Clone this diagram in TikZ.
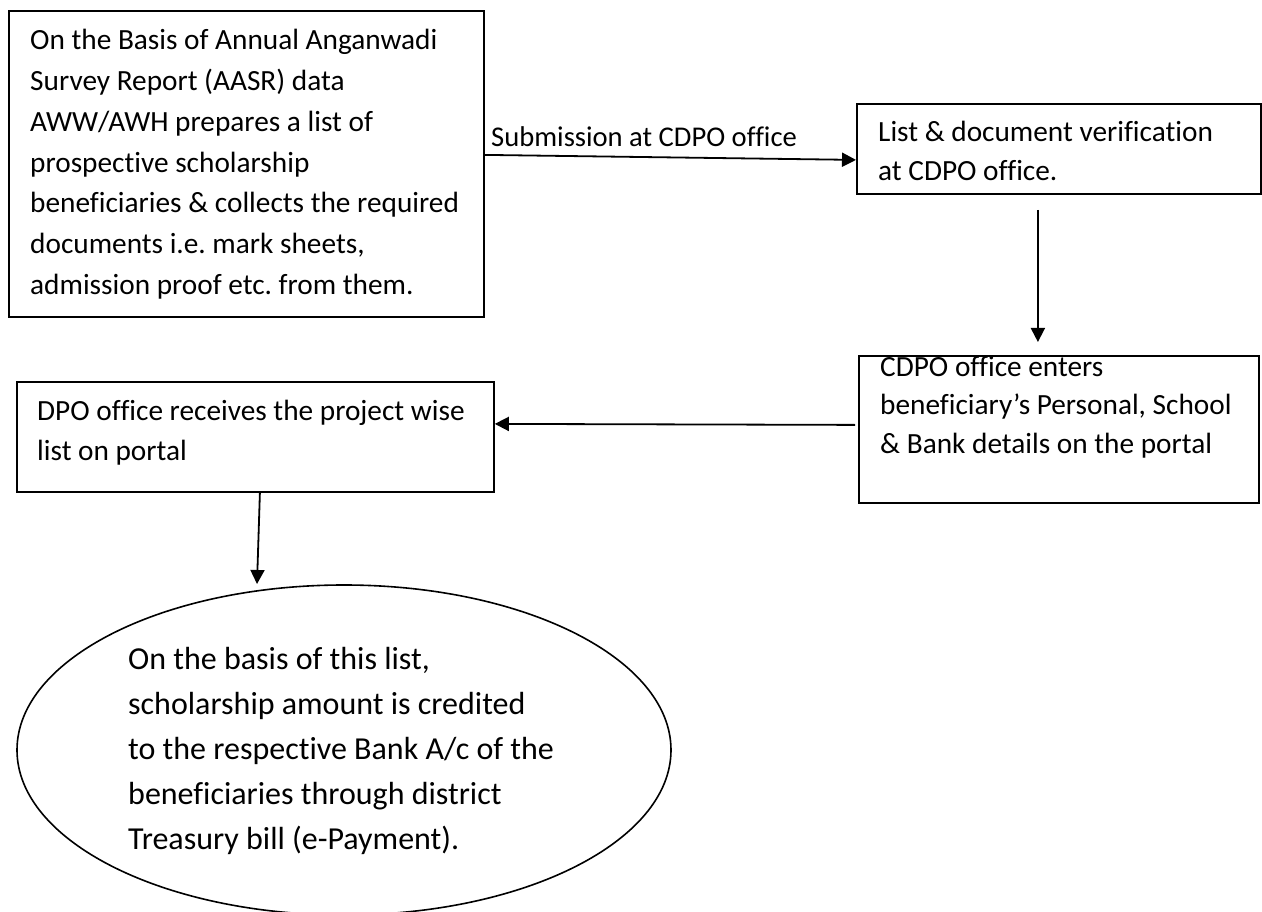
\documentclass[tikz,border=0pt]{standalone}
\usepackage{fontspec}
\setmainfont[Ligatures={NoCommon}]{Carlito}
\usetikzlibrary{arrows.meta,shapes.geometric}
\frenchspacing
\begin{document}
\begin{tikzpicture}[x=1pt,y=-1pt,
  box/.style={draw=black, line width=1.8pt, rectangle, inner sep=0pt, anchor=north west},
  txt/.style={anchor=base west, align=left, inner sep=0pt},
  conn/.style={line width=1.8pt, -{Triangle[length=14pt,width=14pt]}},
]
\useasboundingbox (0,0) rectangle (1262,912);
\clip (0,0) rectangle (1262,912);
\fill[white] (0,0) rectangle (1262,912);

% boxes
\node[box, minimum width=475pt, minimum height=306pt] (b1) at (8,10) {};
\node[box, minimum width=404pt, minimum height=90pt] (b2) at (856,103) {};
\node[box, minimum width=400pt, minimum height=147pt] (b3) at (858,355) {};
\node[box, minimum width=477pt, minimum height=110pt] (b4) at (16,381) {};
\node[draw=black, line width=1.6pt, ellipse, inner sep=0pt, minimum width=654pt, minimum height=330pt] (e) at (344,750) {};

% texts (anchor = baseline of last line)
\node[txt, font=\fontsize{29.3}{41}\selectfont] (t1) at (30,295) {On the Basis of Annual Anganwadi\\Survey Report (AASR) data\\AWW/AWH prepares a list of\\prospective scholarship\\beneficiaries \& collects the required\\documents i.e. mark sheets,\\admission proof etc. from them.};
\node[txt, font=\fontsize{29.3}{39}\selectfont] (t2) at (878,181) {List \& document verification\\at CDPO office.};
\node[txt, font=\fontsize{29.3}{38.5}\selectfont] (t3) at (880,453) {CDPO office enters\\beneficiary’s Personal, School\\\& Bank details on the portal};
\node[txt, font=\fontsize{29.3}{40}\selectfont] (t4) at (37,460) {DPO office receives the project wise\\list on portal};
\node[txt, font=\fontsize{32}{45}\selectfont] (t5) at (128,849) {On the basis of this list,\\scholarship amount is credited\\to the respective Bank A/c of the\\beneficiaries through district\\Treasury bill (e-Payment).};
\node[txt, font=\fontsize{28.6}{30}\selectfont] (lab) at (491,147) {Submission at CDPO office};

% connectors
\draw[conn] ([yshift=9pt]b1.east) -- ([yshift=-11pt]b2.west);
\draw[conn] ([xshift=-21pt,yshift=-15pt]b2.south) -- ([xshift=-21pt,yshift=13pt]b3.north);
\draw[conn] ([xshift=-3pt,yshift=4.5pt]b3.west) -- ([yshift=13pt]b4.east);
\coordinate (a4e) at (257,584);
\draw[conn] ([xshift=4.5pt]b4.south) -- (a4e);
\end{tikzpicture}
\end{document}
